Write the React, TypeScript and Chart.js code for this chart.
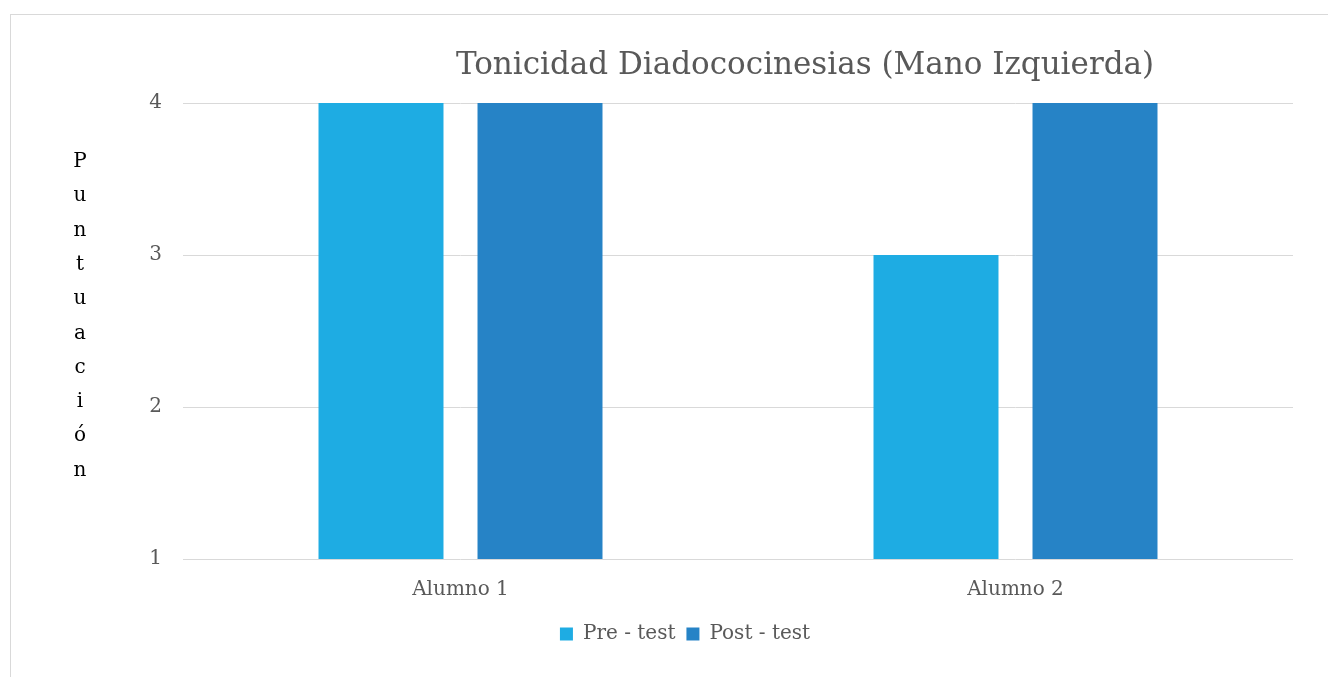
import React, { useEffect, useRef } from "react";
import { Chart, registerables } from "chart.js";

Chart.register(...registerables);

const categories = ["Alumno 1", "Alumno 2"];
const preTest = [4, 3];
const postTest = [4, 4];
const seriesNames = ["Pre - test", "Post - test"];
const titleText = "Tonicidad Diadococinesias (Mano Izquierda)";
const yAxisTitle = "Puntuación";

const FONT = "'DejaVu Serif', serif";

const overlayPlugin = {
  id: "overlay",
  afterDraw(chart: any) {
    const ctx = chart.ctx;
    ctx.save();
    ctx.fillStyle = "#595959";
    ctx.font = `31px ${FONT}`;
    ctx.textAlign = "center";
    ctx.textBaseline = "alphabetic";
    ctx.fillText(titleText, 805, 74);

    ctx.fillStyle = "#000000";
    ctx.font = `20px ${FONT}`;
    const letters = Array.from(yAxisTitle);
    letters.forEach((ch, i) => {
      ctx.fillText(ch, 80, 167 + i * 34.3);
    });
    ctx.restore();
  },
};

export default function App() {
  const ref = useRef<HTMLCanvasElement | null>(null);
  useEffect(() => {
    if (!ref.current) return;
    const chart = new Chart(ref.current, {
      type: "bar",
      data: {
        labels: categories,
        datasets: [
          {
            label: seriesNames[0],
            data: preTest,
            backgroundColor: "#1EACE3",
            categoryPercentage: 0.573,
            barPercentage: 0.786,
          },
          {
            label: seriesNames[1],
            data: postTest,
            backgroundColor: "#2683C6",
            categoryPercentage: 0.573,
            barPercentage: 0.786,
          },
        ],
      },
      options: {
        animation: false,
        responsive: false,
        maintainAspectRatio: false,
        layout: { padding: { left: 77, right: 35, top: 103, bottom: 23 } },
        plugins: {
          title: { display: false },
          tooltip: { enabled: false },
          legend: {
            position: "bottom",
            labels: {
              boxWidth: 13,
              boxHeight: 13,
              padding: 11,
              color: "#595959",
              font: { family: FONT, size: 20 },
            },
          },
        },
        scales: {
          x: {
            grid: { display: false },
            border: { display: false },
            ticks: {
              color: "#595959",
              font: { family: FONT, size: 20 },
              padding: 11,
            },
            afterFit(scale: any) {
              scale.height = 54;
            },
          },
          y: {
            min: 1,
            max: 4,
            grid: { color: "#d9d9d9", lineWidth: 1, drawTicks: false },
            border: { display: false },
            ticks: {
              stepSize: 1,
              color: "#595959",
              font: { family: FONT, size: 20 },
              padding: 21,
            },
            afterFit(scale: any) {
              scale.width = 106;
            },
          },
        },
      },
      plugins: [overlayPlugin],
    });
    return () => chart.destroy();
  }, []);
  return (
    <div style={{ position: "absolute", left: 0, top: 0, width: 1328, height: 677, background: "#fff" }}>
      <div
        style={{
          position: "absolute",
          left: 10,
          top: 14,
          right: 0,
          bottom: 0,
          borderLeft: "1px solid #d9d9d9",
          borderTop: "1px solid #d9d9d9",
        }}
      />
      <canvas ref={ref} width={1328} height={677} style={{ position: "absolute", left: 0, top: 0 }} />
    </div>
  );
}
